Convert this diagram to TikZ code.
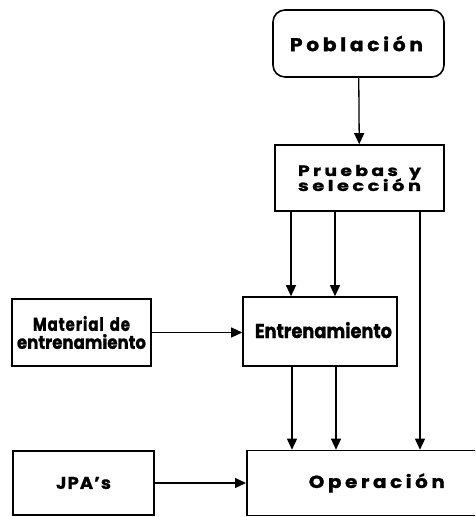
\documentclass[tikz,border=0pt]{standalone}
\usepackage{fontspec}
\setmainfont{Poppins}[BoldFont={Poppins Bold},BoldFeatures={FakeBold=1.2}]
\usetikzlibrary{arrows.meta}
\newcommand{\fitw}[2]{\resizebox{#1}{\height}{#2}}
\newcommand{\wide}{\addfontfeatures{LetterSpace=18}}
\begin{document}
\lineskiplimit=-30pt\relax
\begin{tikzpicture}[x=1pt,y=-1pt,
  box/.style={draw,line width=1.6pt,inner sep=0pt,font=\bfseries},
  conn/.style={line width=1.3pt,-{Triangle[width=10pt,length=11pt]}}]
\useasboundingbox (0,0) rectangle (475,517);
\begin{scope}
\clip (0,0) rectangle (475,517);
\node[box,rounded corners=12pt,minimum width=171pt,minimum height=67pt,font=\bfseries\fontsize{18.5}{18}\selectfont] (pob) at (358.5,43.5)
  {\hspace{-4pt}\fitw{133pt}{\wide Población}};
\node[box,minimum width=169pt,minimum height=66pt,align=center,font=\bfseries\fontsize{15}{15}\selectfont] (pru) at (359.5,178)
  {\fitw{123pt}{\wide Pruebas\hspace{0.6em}y}\\ \fitw{123pt}{\wide selección}};
\node[box,minimum width=154pt,minimum height=69pt,font=\bfseries\fontsize{20}{20}\selectfont] (ent) at (320,331.5)
  {\hspace{7pt}\raisebox{3pt}{\fitw{137pt}{Entrenamiento}}};
\node[box,minimum width=139pt,minimum height=67pt,align=center,font=\bfseries\fontsize{18.5}{18}\selectfont] (mat) at (81.5,332.5)
  {\fitw{97pt}{\addfontfeatures{LetterSpace=6}Material\hspace{0.4em}de}\\ \fitw{129pt}{entrenamiento}};
\node[box,minimum width=260pt,minimum height=65pt,anchor=west,font=\bfseries\fontsize{17.5}{18}\selectfont] (ope) at (246,483)
  {\makebox[229pt]{\fitw{136pt}{\wide Operación}}\hspace{31pt}};
\node[box,minimum width=141pt,minimum height=64pt,font=\bfseries\fontsize{17}{18}\selectfont] (jpa) at (83.5,483)
  {\fitw{55pt}{\addfontfeatures{LetterSpace=6}JPA's}};
\end{scope}
\draw[conn] (pob) -- (pru);
\draw[conn] (pru.south -| 291,0) -- (ent.north -| 291,0);
\draw[conn] (pru.south -| 335,0) -- (ent.north -| 335,0);
\draw[conn] (pru.south -| 420,0) -- (ope.north -| 420,0);
\draw[conn] (ent.south -| 292,0) -- (ope.north -| 292,0);
\draw[conn] (ent.south -| 336,0) -- (ope.north -| 336,0);
\draw[conn] (mat.east) -- (mat.east -| ent.west);
\draw[conn] (jpa) -- (ope.west);
\end{tikzpicture}
\end{document}
